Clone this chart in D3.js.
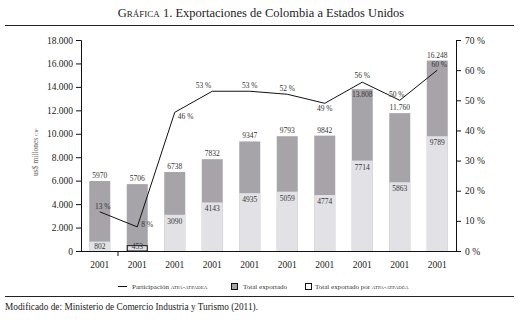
<!DOCTYPE html>
<html>
<head>
<meta charset="utf-8">
<script src="https://cdn.jsdelivr.net/npm/d3@7"></script>
<style>
  body { margin: 0; background: #fff; }
  svg { font-family: "Liberation Serif", "DejaVu Serif", serif; }
  .sc { font-variant: small-caps; }
</style>
</head>
<body>
<svg id="chart" width="519" height="321"></svg>
<script>
// datos
var years = ["2001", "2001", "2001", "2001", "2001", "2001", "2001", "2001", "2001", "2001"];
var totalExportado = [5970, 5706, 6738, 7832, 9347, 9793, 9842, 13808, 11760, 16248];
var totalLabels = ["5970", "5706", "6738", "7832", "9347", "9793", "9842", "13.808", "11.760", "16.248"];
var totalAtpa = [802, 453, 3090, 4143, 4935, 5059, 4774, 7714, 5863, 9789];
var participacion = [13, 8, 46, 53, 53, 52, 49, 56, 50, 60];
var yTicks = [0, 2000, 4000, 6000, 8000, 10000, 12000, 14000, 16000, 18000];
var pctTicks = [0, 10, 20, 30, 40, 50, 60, 70];

// donde va cada etiqueta de porcentaje: [dx, dy, anchor]
var pctPos = [[3, -3, "middle"], [4, 0, "start"], [3, 7, "start"], [-1, -3, "end"], [0, -3, "middle"],
              [0, -3, "middle"], [0, 8, "middle"], [0, -4, "middle"], [-3, -3, "middle"], [2, -3, "middle"]];

var dark = "#a6a4a9";
var light = "#e2e2e6";

var svg = d3.select("#chart");
var pLeft = 81, pRight = 456, pTop = 40, pBottom = 251;

var x = d3.scaleBand().domain(d3.range(years.length)).range([pLeft, pRight]).paddingInner(0.44).paddingOuter(0.22);
var y = d3.scaleLinear().domain([0, 18000]).range([pBottom, pTop]);
var yp = d3.scaleLinear().domain([0, 70]).range([pBottom, pTop]);

// titulo
var title = svg.append("text").attr("x", 261).attr("y", 17).attr("text-anchor", "middle")
    .style("font-size", "12.5px").attr("fill", "#222");
title.append("tspan").attr("class", "sc").text("Gráfica 1");
title.append("tspan").text(". Exportaciones de Colombia a Estados Unidos");

svg.append("line").attr("x1", 5).attr("x2", 514).attr("y1", 25.5).attr("y2", 25.5).attr("stroke", "#222").attr("stroke-width", 1);
svg.append("line").attr("x1", 5).attr("x2", 514).attr("y1", 296.5).attr("y2", 296.5).attr("stroke", "#222").attr("stroke-width", 1);

// barras
var g = svg.append("g");
g.selectAll(".tot").data(totalExportado).enter().append("rect")
    .attr("x", (d, i) => x(i)).attr("width", x.bandwidth())
    .attr("y", d => y(d)).attr("height", d => pBottom - y(d))
    .attr("fill", dark);
g.selectAll(".atpa").data(totalAtpa).enter().append("rect")
    .attr("x", (d, i) => x(i) + (i == 1 ? 0.5 : 0)).attr("width", (d, i) => x.bandwidth() - (i == 1 ? 1 : 0))
    .attr("y", d => y(d)).attr("height", d => pBottom - y(d))
    .attr("fill", light)
    .attr("stroke", (d, i) => i == 1 ? "#111" : "none");

// ejes
var yAxis = svg.append("g").attr("transform", "translate(" + pLeft + ",0)")
    .call(d3.axisLeft(y).tickValues(yTicks).tickSize(5).tickPadding(3).tickFormat(d => d3.format(",")(d).replace(/,/g, ".")));
var pAxis = svg.append("g").attr("transform", "translate(" + pRight + ",0)")
    .call(d3.axisRight(yp).tickValues(pctTicks).tickSize(5).tickPadding(4).tickFormat(d => d + " %"));
[yAxis, pAxis].forEach(a => {
    a.select(".domain").attr("stroke", "#111");
    a.selectAll(".tick line").attr("stroke", "#111");
    a.selectAll("text").style("font-size", "9.5px").attr("fill", "#222").style("font-family", "Liberation Serif");
});

svg.append("line").attr("x1", pLeft - 5).attr("x2", pRight).attr("y1", pBottom + 0.5).attr("y2", pBottom + 0.5).attr("stroke", "#111");
svg.append("line").attr("x1", x.step() + pLeft - 0.5).attr("x2", x.step() + pLeft - 0.5)
    .attr("y1", pBottom).attr("y2", pBottom + 5).attr("stroke", "#111");

svg.selectAll(".xl").data(years).enter().append("text")
    .attr("x", (d, i) => x(i) + x.bandwidth() / 2).attr("y", 268)
    .attr("text-anchor", "middle").style("font-size", "9.5px").attr("fill", "#222").text(d => d);

// etiqueta eje y
svg.append("text").attr("transform", "translate(38,152) rotate(-90)").attr("text-anchor", "middle")
    .style("font-size", "7.5px").attr("fill", "#666")
    .html('us$ millones <tspan class="sc">cif</tspan>');

// etiquetas de valores
svg.selectAll(".tl").data(totalExportado).enter().append("text")
    .attr("x", (d, i) => x(i) + x.bandwidth() / 2)
    .attr("y", (d, i) => i == 7 ? y(d) + 8 : y(d) - 3)
    .attr("text-anchor", "middle").style("font-size", "7.5px").attr("fill", "#333")
    .text((d, i) => totalLabels[i]);
svg.selectAll(".al").data(totalAtpa).enter().append("text")
    .attr("x", (d, i) => x(i) + x.bandwidth() / 2)
    .attr("y", (d, i) => i < 2 ? pBottom - 2 : y(d) + 9)
    .attr("text-anchor", "middle").style("font-size", "7.5px").attr("fill", "#333")
    .text(d => d);

// linea de participacion
var line = d3.line().x((d, i) => x(i) + x.bandwidth() / 2).y(d => yp(d));
svg.append("path").datum(participacion).attr("d", line)
    .attr("fill", "none").attr("stroke", "#111").attr("stroke-width", 1);
svg.selectAll(".pl").data(participacion).enter().append("text")
    .attr("x", (d, i) => x(i) + x.bandwidth() / 2 + pctPos[i][0])
    .attr("y", (d, i) => yp(d) + pctPos[i][1])
    .attr("text-anchor", (d, i) => pctPos[i][2])
    .style("font-size", "7.5px").attr("fill", "#333")
    .text(d => d + " %");

// leyenda
var lg = svg.append("g").style("font-size", "7px").attr("fill", "#333");
lg.append("line").attr("x1", 118).attr("x2", 127).attr("y1", 286.5).attr("y2", 286.5).attr("stroke", "#111");
lg.append("text").attr("x", 132).attr("y", 289).html('Participación <tspan class="sc">atpa-atpadea</tspan>');
lg.append("rect").attr("x", 231.5).attr("y", 283.5).attr("width", 6).attr("height", 6).attr("fill", dark).attr("stroke", "#111");
lg.append("text").attr("x", 243).attr("y", 289).text("Total exportado");
lg.append("rect").attr("x", 305.5).attr("y", 283.5).attr("width", 6).attr("height", 6).attr("fill", "#fff").attr("stroke", "#111");
lg.append("text").attr("x", 315).attr("y", 289).html('Total exportado por <tspan class="sc">atpa-atpadea</tspan>');

svg.append("text").attr("x", 5).attr("y", 310).style("font-size", "9.3px").attr("fill", "#222")
    .text("Modificado de: Ministerio de Comercio Industria y Turismo (2011).");
</script>
</body>
</html>
